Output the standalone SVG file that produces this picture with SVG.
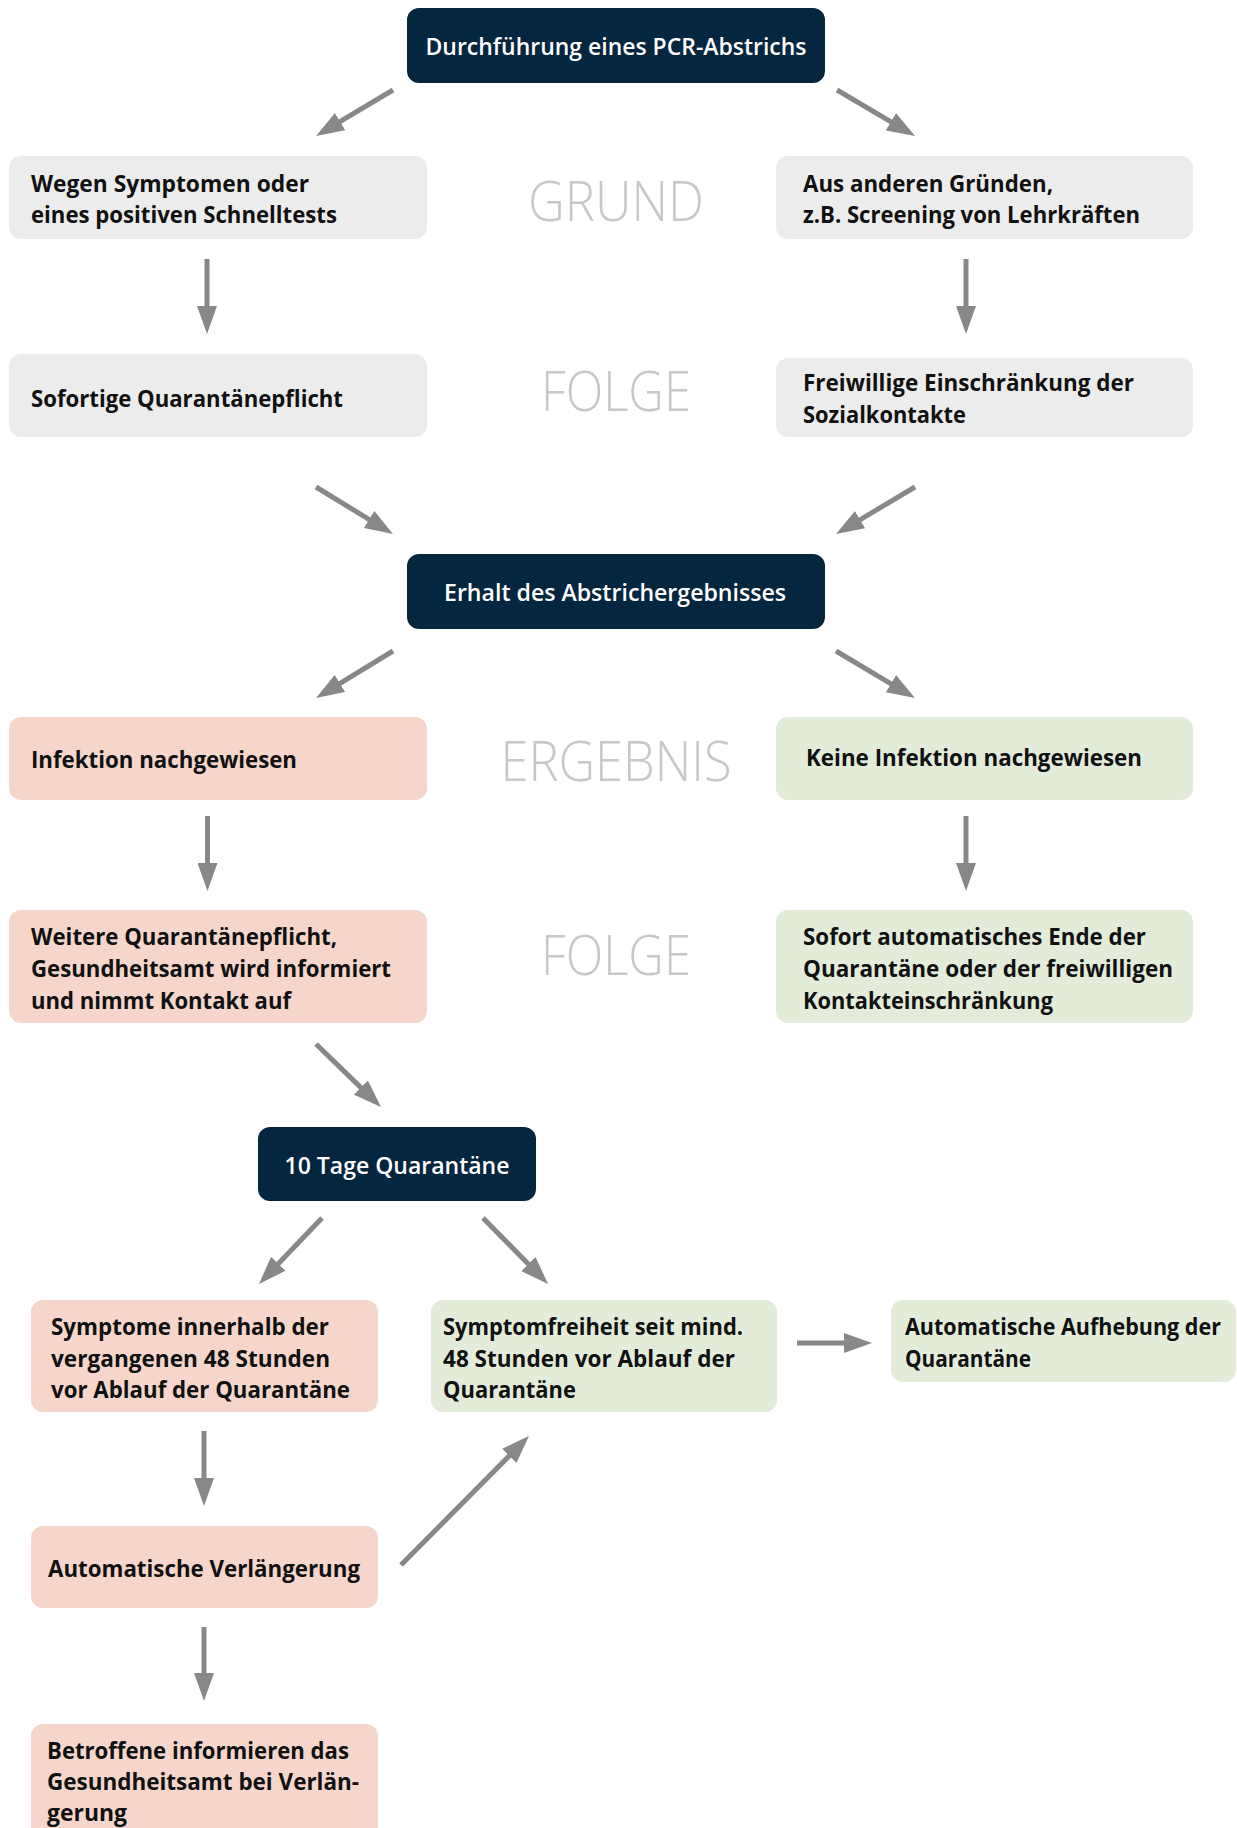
<svg xmlns="http://www.w3.org/2000/svg" width="1237" height="1828" viewBox="0 0 1237 1828">
<defs>
<style>
.t{font-family:"Open Sans","Noto Sans","Liberation Sans",sans-serif;font-weight:700;font-size:23px;fill:#111111}
.w{fill:#ffffff;font-weight:600}
.lbl{font-family:"Open Sans","Noto Sans","Liberation Sans",sans-serif;font-weight:300;font-size:55px;fill:#c8c8c8}
.navy{fill:#05263f}
.gray{fill:#ececec}
.pink{fill:#f6d6ca}
.green{fill:#e2ecd9}
.arr{stroke:#888888;stroke-width:5;fill:none;marker-end:url(#ah)}
</style>
<marker id="ah" viewBox="0 0 28 20" refX="8" refY="10" markerWidth="28" markerHeight="20" markerUnits="userSpaceOnUse" orient="auto">
<path d="M0,0 L28,10 L0,20 z" fill="#888888"/>
</marker>
</defs>
<rect width="1237" height="1828" fill="#ffffff"/>

<g id="labels">
<text class="lbl" x="616" y="221" text-anchor="middle" textLength="176" lengthAdjust="spacingAndGlyphs">GRUND</text>
<text class="lbl" x="616" y="411" text-anchor="middle" textLength="150" lengthAdjust="spacingAndGlyphs">FOLGE</text>
<text class="lbl" x="616" y="781" text-anchor="middle" textLength="231" lengthAdjust="spacingAndGlyphs">ERGEBNIS</text>
<text class="lbl" x="616" y="975" text-anchor="middle" textLength="150" lengthAdjust="spacingAndGlyphs">FOLGE</text>
</g>

<g id="connectors">
<line class="arr" x1="393" y1="90" x2="333.2" y2="125.7"/>
<line class="arr" x1="837" y1="90" x2="897.8" y2="125.8"/>
<line class="arr" x1="207" y1="259" x2="207" y2="314"/>
<line class="arr" x1="966" y1="259" x2="966" y2="314"/>
<line class="arr" x1="316" y1="487" x2="375.9" y2="523.6"/>
<line class="arr" x1="915" y1="487" x2="853.2" y2="523.8"/>
<line class="arr" x1="393" y1="651" x2="333.1" y2="687.6"/>
<line class="arr" x1="836" y1="651" x2="897.8" y2="687.8"/>
<line class="arr" x1="207.5" y1="816" x2="207.5" y2="871"/>
<line class="arr" x1="966" y1="816" x2="966" y2="871"/>
<line class="arr" x1="316" y1="1044" x2="366.6" y2="1093.1"/>
<line class="arr" x1="322" y1="1218" x2="272.8" y2="1269.5"/>
<line class="arr" x1="483" y1="1218" x2="534" y2="1269.7"/>
<line class="arr" x1="797" y1="1343" x2="852" y2="1343"/>
<line class="arr" x1="204" y1="1431" x2="204" y2="1486"/>
<line class="arr" x1="401" y1="1565" x2="514.9" y2="1450.2"/>
<line class="arr" x1="204" y1="1627" x2="204" y2="1681"/>
</g>

<g id="n-pcr">
<rect class="navy" x="407" y="8" width="418" height="75" rx="12"/>
<text class="t w" x="616" y="55" text-anchor="middle" textLength="381" lengthAdjust="spacingAndGlyphs">Durchführung eines PCR-Abstrichs</text>
</g>

<g id="n-symptome">
<rect class="gray" x="9" y="156" width="418" height="83" rx="12"/>
<text class="t" x="31" y="192" textLength="278" lengthAdjust="spacingAndGlyphs">Wegen Symptomen oder</text>
<text class="t" x="31" y="223" textLength="306" lengthAdjust="spacingAndGlyphs">eines positiven Schnelltests</text>
</g>

<g id="n-andere">
<rect class="gray" x="776" y="156" width="417" height="83" rx="12"/>
<text class="t" x="803" y="192" textLength="250" lengthAdjust="spacingAndGlyphs">Aus anderen Gründen,</text>
<text class="t" x="803" y="223" textLength="337" lengthAdjust="spacingAndGlyphs">z.B. Screening von Lehrkräften</text>
</g>

<g id="n-sofortige">
<rect class="gray" x="9" y="354" width="418" height="83" rx="12"/>
<text class="t" x="31" y="407" textLength="312" lengthAdjust="spacingAndGlyphs">Sofortige Quarantänepflicht</text>
</g>

<g id="n-freiwillig">
<rect class="gray" x="776" y="358" width="417" height="79" rx="12"/>
<text class="t" x="803" y="391" textLength="331" lengthAdjust="spacingAndGlyphs">Freiwillige Einschränkung der</text>
<text class="t" x="803" y="423" textLength="163" lengthAdjust="spacingAndGlyphs">Sozialkontakte</text>
</g>

<g id="n-erhalt">
<rect class="navy" x="407" y="554" width="418" height="75" rx="12"/>
<text class="t w" x="615" y="601" text-anchor="middle" textLength="342" lengthAdjust="spacingAndGlyphs">Erhalt des Abstrichergebnisses</text>
</g>

<g id="n-infektion">
<rect class="pink" x="9" y="717" width="418" height="83" rx="12"/>
<text class="t" x="31" y="768" textLength="266" lengthAdjust="spacingAndGlyphs">Infektion nachgewiesen</text>
</g>

<g id="n-keine">
<rect class="green" x="776" y="717" width="417" height="83" rx="12"/>
<text class="t" x="806" y="766" textLength="336" lengthAdjust="spacingAndGlyphs">Keine Infektion nachgewiesen</text>
</g>

<g id="n-weitere">
<rect class="pink" x="9" y="910" width="418" height="113" rx="12"/>
<text class="t" x="31" y="945" textLength="306" lengthAdjust="spacingAndGlyphs">Weitere Quarantänepflicht,</text>
<text class="t" x="31" y="977" textLength="360" lengthAdjust="spacingAndGlyphs">Gesundheitsamt wird informiert</text>
<text class="t" x="31" y="1009" textLength="260" lengthAdjust="spacingAndGlyphs">und nimmt Kontakt auf</text>
</g>

<g id="n-sofort">
<rect class="green" x="776" y="910" width="417" height="113" rx="12"/>
<text class="t" x="803" y="945" textLength="343" lengthAdjust="spacingAndGlyphs">Sofort automatisches Ende der</text>
<text class="t" x="803" y="977" textLength="370" lengthAdjust="spacingAndGlyphs">Quarantäne oder der freiwilligen</text>
<text class="t" x="803" y="1009" textLength="250" lengthAdjust="spacingAndGlyphs">Kontakteinschränkung</text>
</g>

<g id="n-10tage">
<rect class="navy" x="258" y="1127" width="278" height="74" rx="12"/>
<text class="t w" x="397" y="1174" text-anchor="middle" textLength="225" lengthAdjust="spacingAndGlyphs">10 Tage Quarantäne</text>
</g>

<g id="n-symptome48">
<rect class="pink" x="31" y="1300" width="347" height="112" rx="12"/>
<text class="t" x="51" y="1335" textLength="278" lengthAdjust="spacingAndGlyphs">Symptome innerhalb der</text>
<text class="t" x="51" y="1367" textLength="279" lengthAdjust="spacingAndGlyphs">vergangenen 48 Stunden</text>
<text class="t" x="51" y="1398" textLength="299" lengthAdjust="spacingAndGlyphs">vor Ablauf der Quarantäne</text>
</g>

<g id="n-symptomfrei">
<rect class="green" x="431" y="1300" width="346" height="112" rx="12"/>
<text class="t" x="443" y="1335" textLength="300" lengthAdjust="spacingAndGlyphs">Symptomfreiheit seit mind.</text>
<text class="t" x="443" y="1367" textLength="292" lengthAdjust="spacingAndGlyphs">48 Stunden vor Ablauf der</text>
<text class="t" x="443" y="1398" textLength="133" lengthAdjust="spacingAndGlyphs">Quarantäne</text>
</g>

<g id="n-aufhebung">
<rect class="green" x="891" y="1300" width="345" height="82" rx="12"/>
<text class="t" x="905" y="1335" textLength="316" lengthAdjust="spacingAndGlyphs">Automatische Aufhebung der</text>
<text class="t" x="905" y="1367" textLength="126" lengthAdjust="spacingAndGlyphs">Quarantäne</text>
</g>

<g id="n-verlaengerung">
<rect class="pink" x="31" y="1526" width="347" height="82" rx="12"/>
<text class="t" x="48" y="1577" textLength="312" lengthAdjust="spacingAndGlyphs">Automatische Verlängerung</text>
</g>

<g id="n-betroffene">
<rect class="pink" x="31" y="1724" width="347" height="120" rx="12"/>
<text class="t" x="47" y="1759" textLength="302" lengthAdjust="spacingAndGlyphs">Betroffene informieren das</text>
<text class="t" x="47" y="1790" textLength="312" lengthAdjust="spacingAndGlyphs">Gesundheitsamt bei Verlän-</text>
<text class="t" x="47" y="1821" textLength="80" lengthAdjust="spacingAndGlyphs">gerung</text>
</g>
</svg>
